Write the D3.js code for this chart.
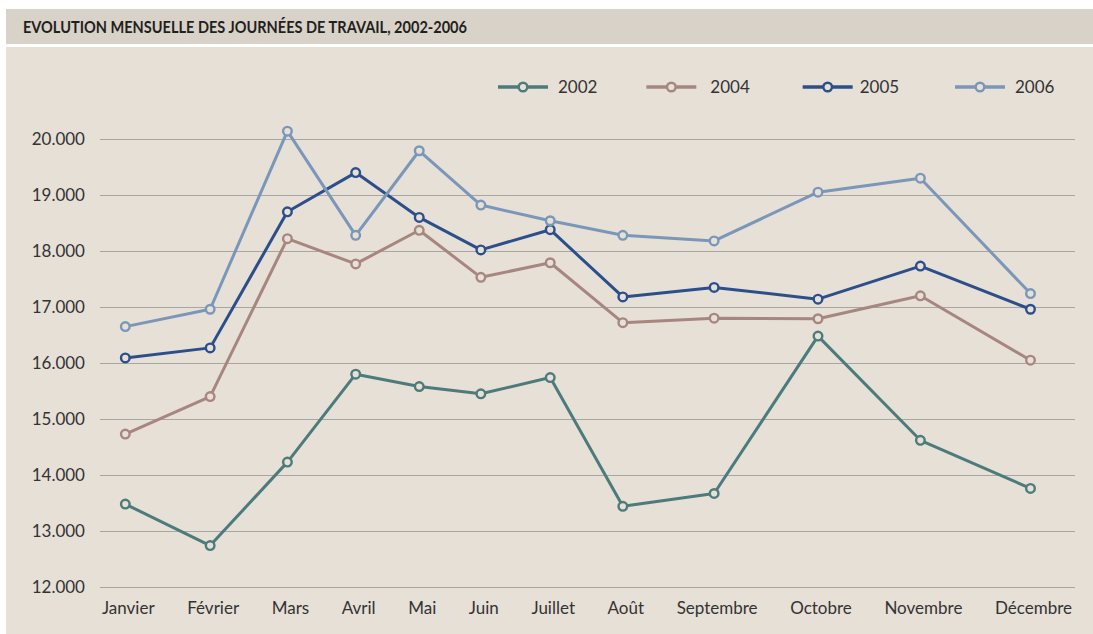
<!DOCTYPE html>
<html>
<head>
<meta charset="utf-8">
<script src="https://cdn.jsdelivr.net/npm/d3@7"></script>
<style>
  body { margin: 0; background: #ffffff; }
  svg { display: block; }
</style>
</head>
<body>
<div id="chart"></div>
<script>
let width = 1093;
let height = 634;

// Data
const months = ["Janvier", "Février", "Mars", "Avril", "Mai", "Juin", "Juillet", "Août", "Septembre", "Octobre", "Novembre", "Décembre"];
const years = ["2002", "2004", "2005", "2006"];
const v2002 = [13480, 12740, 14230, 15800, 15580, 15450, 15740, 13440, 13670, 16480, 14620, 13760];
const v2004 = [14730, 15400, 18220, 17770, 18370, 17530, 17790, 16720, 16800, 16790, 17200, 16050];
const v2005 = [16090, 16270, 18700, 19400, 18600, 18020, 18380, 17180, 17350, 17140, 17730, 16960];
const v2006 = [16650, 16960, 20140, 18280, 19790, 18820, 18540, 18280, 18180, 19050, 19300, 17240];
const yTicks = [12000, 13000, 14000, 15000, 16000, 17000, 18000, 19000, 20000];

const colors = { "2002": "#4c7b7b", "2004": "#a88680", "2005": "#2c4f8b", "2006": "#7a97ba" };
const bg = "#e6e0d7";
const font = "Lato, 'Open Sans', sans-serif";

let series = years.map((yr, i) => ({
    year: yr,
    values: [v2002, v2004, v2005, v2006][i].map((v, j) => ({ m: months[j], v: v }))
}));

let svg = d3.select("#chart")
    .append("svg")
    .attr("width", width)
    .attr("height", height);

// Title bar and panel
svg.append("rect").attr("x", 6).attr("y", 9).attr("width", width - 6).attr("height", 35).attr("fill", "#d9d2c8");
svg.append("rect").attr("x", 6).attr("y", 47).attr("width", width - 6).attr("height", height - 47).attr("fill", bg);

// title is a condensed face in the original, so squeeze it to the same width
svg.append("text")
    .attr("x", 23)
    .attr("y", 33)
    .attr("font-family", font)
    .attr("font-weight", "bold")
    .attr("font-size", 17.5)
    .attr("fill", "#231f20")
    .attr("textLength", 444)
    .attr("lengthAdjust", "spacingAndGlyphs")
    .text("EVOLUTION MENSUELLE DES JOURNÉES DE TRAVAIL, 2002-2006");

let gridLeft = 100, gridRight = 1075;

let y = d3.scaleLinear().domain([12000, 20000]).range([587, 139]);

let locale = d3.formatLocale({ decimal: ",", thousands: ".", grouping: [3], currency: ["", "€"] });

// Y axis with gridlines
let yAxis = svg.append("g")
    .attr("transform", `translate(${gridLeft},0)`)
    .call(d3.axisLeft(y)
        .tickValues(yTicks)
        .tickSize(-(gridRight - gridLeft))
        .tickPadding(15)
        .tickFormat(locale.format(",")));
yAxis.select(".domain").remove();
yAxis.selectAll(".tick line").attr("stroke", "#a7a6a2").attr("stroke-width", 1.2);
yAxis.selectAll(".tick text")
    .attr("font-family", font)
    .attr("font-size", 17)
    .attr("fill", "#333");

// X labels: laid out side by side with equal gaps, points sit at label centres
let labels = svg.append("g").selectAll("text")
    .data(months)
    .enter()
    .append("text")
    .attr("y", 614)
    .attr("text-anchor", "middle")
    .attr("font-family", font)
    .attr("font-size", 17)
    .attr("fill", "#333")
    .text(d => d);

let widths = labels.nodes().map(n => n.getComputedTextLength());
let labelLeft = 102, labelRight = 1072;
let gap = (labelRight - labelLeft - d3.sum(widths)) / (months.length - 1);
let centers = [];
let pos = labelLeft;
widths.forEach(w => { centers.push(pos + w / 2); pos += w + gap; });

let x = d3.scaleOrdinal().domain(months).range(centers);
labels.attr("x", d => x(d));

// Lines
let line = d3.line().x(d => x(d.m) - 3).y(d => y(d.v));

let groups = svg.selectAll(".serie")
    .data(series)
    .enter()
    .append("g")
    .attr("class", "serie");

groups.append("path")
    .attr("d", d => line(d.values))
    .attr("fill", "none")
    .attr("stroke", d => colors[d.year])
    .attr("stroke-width", 3)
    .attr("stroke-linejoin", "round");

groups.selectAll("circle")
    .data(d => d.values.map(p => ({ ...p, year: d.year })))
    .enter()
    .append("circle")
    .attr("cx", d => x(d.m) - 3)
    .attr("cy", d => y(d.v))
    .attr("r", 4.3)
    .attr("fill", bg)
    .attr("stroke", d => colors[d.year])
    .attr("stroke-width", 2.4);

// Legend
let legendX = d3.scalePoint().domain(years).range([498, 955]);
let legend = svg.selectAll(".legend")
    .data(years)
    .enter()
    .append("g")
    .attr("class", "legend")
    .attr("transform", (d, i) => `translate(${legendX(d) + [0, -4, 0, 0][i]},87)`);

legend.append("line")
    .attr("x1", 0).attr("x2", 50)
    .attr("stroke", d => colors[d])
    .attr("stroke-width", 3.5);
legend.append("circle")
    .attr("cx", 25)
    .attr("r", 4.3)
    .attr("fill", bg)
    .attr("stroke", d => colors[d])
    .attr("stroke-width", 2.4);
legend.append("text")
    .attr("x", (d, i) => [60, 64, 57, 60][i])
    .attr("y", 6)
    .attr("font-family", font)
    .attr("font-size", 17)
    .attr("fill", "#333")
    .text(d => d);
</script>
</body>
</html>
